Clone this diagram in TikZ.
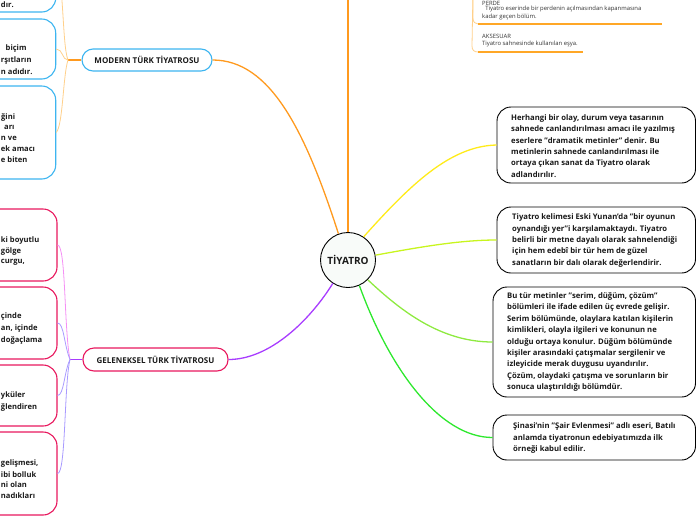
\documentclass[tikz,border=0pt]{standalone}
\usepackage{fontspec}
\setmainfont{Open Sans}
\definecolor{orM}{HTML}{FF9A1F}
\definecolor{orL}{HTML}{FFD08A}
\definecolor{orU}{HTML}{FFA726}
\definecolor{blueB}{HTML}{3DB5F0}
\definecolor{pinkB}{HTML}{E8185E}
\definecolor{purM}{HTML}{A83CFF}
\definecolor{pinkL}{HTML}{F590F5}
\definecolor{purL}{HTML}{A99BFF}
\definecolor{yel}{HTML}{FFEB1A}
\definecolor{ygr}{HTML}{C8F51E}
\definecolor{lgr}{HTML}{8EEA40}
\definecolor{grn}{HTML}{2EE82E}
\definecolor{txt}{HTML}{1A1A1A}
\definecolor{smalltxt}{HTML}{333333}
\begin{document}
\begin{tikzpicture}[x=1pt,y=-1pt,
  rbox/.style={draw=black, line width=0.9pt, rounded corners=14pt, fill=white, inner sep=0pt},
  bbox/.style={draw=blueB, line width=1.1pt, rounded corners=14pt, fill=white, inner sep=0pt},
  pbox/.style={draw=pinkB, line width=1.1pt, rounded corners=14pt, fill=white, inner sep=0pt},
  btext/.style={font=\bfseries\fontsize{7.7}{11.4}\selectfont, text=txt, align=left, inner sep=0pt},
  frag/.style={font=\bfseries\fontsize{7.6}{11.4}\selectfont, text=txt, inner sep=0pt, anchor=west},
  stext/.style={font=\fontsize{5.9}{8}\selectfont, text=smalltxt, align=left, inner sep=0pt, anchor=west},
  head/.style={font=\bfseries\fontsize{8}{9}\selectfont, text=txt, inner sep=0pt},
  mainline/.style={line width=1.3pt},
  subline/.style={line width=0.8pt}
]
\useasboundingbox (0,0) rectangle (696,520);
\clip (0,0) rectangle (696,520);

% ---------- centre ----------
\node[circle, draw=black, line width=0.9pt, fill={rgb,255:red,248;green,251;blue,249}, minimum size=55pt, inner sep=0pt,
  font=\bfseries\fontsize{10}{11}\selectfont, text=txt] (c) at (348,260) {TİYATRO};

% ---------- right boxes ----------
\node[rbox, minimum width=198.5pt, minimum height=76pt] (r1) at (596.25,145) {};
\node[btext, anchor=west] (r1t) at (511,146) { Herhangi bir olay, durum veya tasarının\\sahnede canlandırılması amacı ile yazılmış\\eserlere "dramatik metinler" denir. Bu\\metinlerin sahnede canlandırılması ile\\ortaya çıkan sanat da Tiyatro olarak\\adlandırılır.};

\node[rbox, minimum width=198.5pt, minimum height=66pt] (r2) at (596.25,240) {};
\node[btext, anchor=west] (r2t) at (512,240.5) {Tiyatro kelimesi Eski Yunan'da "bir oyunun\\oynandığı yer"i karşılamaktaydı. Tiyatro\\belirli bir metne dayalı olarak sahnelendiği\\için hem edebî bir tür hem de güzel\\sanatların bir dalı olarak değerlendirir.};

\node[rbox, minimum width=202.5pt, minimum height=110pt] (r3) at (594.25,342) {};
\node[btext, anchor=west] (r3t) at (507,342) {Bu tür metinler "serim, düğüm, çözüm"\\bölümleri ile ifade edilen üç evrede gelişir.\\Serim bölümünde, olaylara katılan kişilerin\\kimlikleri, olayla ilgileri ve konunun ne\\olduğu ortaya konulur. Düğüm bölümünde\\kişiler arasındaki çatışmalar sergilenir ve\\izleyicide merak duygusu uyandırılır.\\Çözüm, olaydaki çatışma ve sorunların bir\\sonuca ulaştırıldığı bölümdür.};

\node[rbox, minimum width=202.5pt, minimum height=45pt] (r4) at (594.25,437.5) {};
\node[btext, anchor=west] (r4t) at (513,438) {Şinasi'nin "Şair Evlenmesi" adlı eseri, Batılı\\anlamda tiyatronun edebiyatımızda ilk\\örneği kabul edilir.};

% ---------- branch heads ----------
\node[bbox, rounded corners=11pt, minimum width=130pt, minimum height=22pt, head] (mod) at (147,60) {MODERN TÜRK TİYATROSU};
\node[pbox, rounded corners=11pt, minimum width=145pt, minimum height=23pt, head] (gel) at (155.5,359.5) {GELENEKSEL TÜRK TİYATROSU};

% ---------- left blue boxes ----------
\node[bbox, minimum width=205.7pt, minimum height=72pt] (b1) at (-47.15,-24) {};
\node[bbox, minimum width=205.7pt, minimum height=60pt] (b2) at (-47.15,49) {};
\node[bbox, minimum width=205.7pt, minimum height=93pt] (b3) at (-47.15,132.5) {};

\node[frag] (b1a) at (0.8,5) {dır.};
\node[frag] (b2a) at (5.5,49) {biçim};
\node[frag] (b2b) at (0.8,60.5) {rşıtların};
\node[frag] (b2c) at (0.8,71.5) {n adıdır.};
\node[frag] (b3a) at (1,117) {ğini};
\node[frag] (b3b) at (4,127.5) {arı};
\node[frag] (b3c) at (0.8,138) {n ve};
\node[frag] (b3d) at (0.8,149) {ek amacı};
\node[frag] (b3e) at (0.8,160) {e biten};

% ---------- left pink boxes ----------
\node[pbox, minimum width=207pt, minimum height=72pt] (p1) at (-46.5,245) {};
\node[pbox, minimum width=207pt, minimum height=72pt] (p2) at (-46.5,323) {};
\node[pbox, minimum width=207pt, minimum height=61pt] (p3) at (-46.5,395.5) {};
\node[pbox, minimum width=207pt, minimum height=83pt] (p4) at (-46.5,473.5) {};

\node[frag] (p1a) at (0.8,241) {ki boyutlu};
\node[frag] (p1b) at (0.8,252) {gölge};
\node[frag] (p1c) at (0.8,262) {curgu,};
\node[frag] (p2a) at (0.8,317) {çinde};
\node[frag] (p2b) at (0.8,328.5) {an, içinde};
\node[frag] (p2c) at (0.8,340) {doğaçlama};
\node[frag] (p3a) at (0.8,396) {yküler};
\node[frag] (p3b) at (0.8,407) {ğlendiren};
\node[frag] (p4a) at (0.8,464) {gelişmesi,};
\node[frag] (p4b) at (0.8,475) {ibi bolluk};
\node[frag] (p4c) at (0.8,485) {ni olan};
\node[frag] (p4d) at (0.8,495.5) {nadıkları};

% ---------- top right items ----------
\node[stext] (perde) at (482,3) {PERDE};
\node[stext] (perdet) at (482,12.5) {\ \ Tiyatro eserinde bir perdenin açılmasından kapanmasına\\kadar geçen bölüm.};
\node[stext] (aks) at (482,36) {AKSESUAR};
\node[stext] (akst) at (482,44) {Tiyatro sahnesinde kullanılan eşya.};
\coordinate (u1a) at (478,24);
\coordinate (u1b) at (662,24);
\coordinate (u2a) at (478,52);
\coordinate (u2b) at (583,52);
\coordinate (tr) at (473,-10);
\coordinate (top) at (348,-10);

% ---------- connectors ----------
\draw[orM, mainline] (c.north) -- (top);
\draw[orM, mainline] (c.110) .. controls (305,130) and (270,60) .. (mod.east);
\draw[yel, mainline] (c.56) .. controls (410,185) and (450,146) .. (r1.west);
\draw[ygr, mainline] (c.10) .. controls (420,247) and (460,240) .. (r2.west);
\draw[lgr, mainline] (c.-45) .. controls (400,310) and (440,342) .. (r3.west);
\draw[grn, mainline] (c.-66) .. controls (390,370) and (440,437.5) .. (r4.west);
\draw[purM, mainline] (c.237) .. controls (310,320) and (270,359.5) .. (gel.east);

% modern sub-branches
\coordinate (mj) at (68,60);
\draw[orM, line width=1.3pt] (mod.west) -- (mj);
\draw[orL, subline] (mj) .. controls (62,45) and (64,-24) .. (b1.east);
\draw[orL, subline] (mj) .. controls (62,60) and (63,49) .. (b2.east);
\draw[orL, subline] (mj) .. controls (63,75) and (63,125) .. (b3.east);

% geleneksel sub-branches
\coordinate (gj) at (70,359.5);
\draw[purM, line width=1.3pt] (gel.west) -- (gj);
\draw[pinkL, subline] (gj) .. controls (64,330) and (66,245) .. (p1.east);
\draw[purL, subline] (gj) .. controls (64,345) and (64,323) .. (p2.east);
\draw[purL, subline] (gj) .. controls (64,372) and (64,395.5) .. (p3.east);
\draw[purL, subline] (gj) .. controls (64,385) and (66,473.5) .. (p4.east);

% top right
\draw[orL, subline] (tr) -- (473,18) .. controls (473,22) and (475,24) .. (u1a);
\draw[orL, subline] (tr) -- (472,46) .. controls (472,50) and (474,52) .. (u2a);
\draw[orU, line width=1.4pt] (u1a) -- (u1b);
\draw[orU, line width=1.4pt] (u2a) -- (u2b);
\end{tikzpicture}
\end{document}
